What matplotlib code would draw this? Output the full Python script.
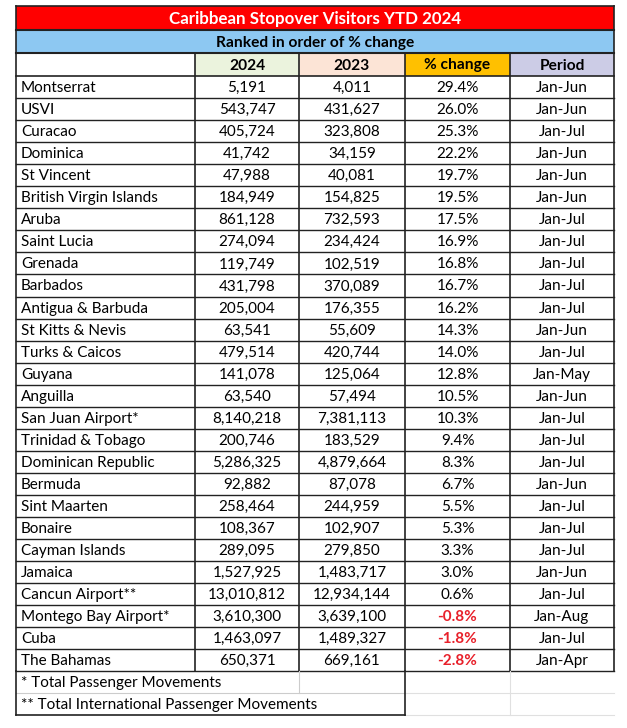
import matplotlib.pyplot as plt
from matplotlib.patches import Rectangle

# Data
countries = ["Montserrat", "USVI", "Curacao", "Dominica", "St Vincent", "British Virgin Islands",
             "Aruba", "Saint Lucia", "Grenada", "Barbados", "Antigua & Barbuda", "St Kitts & Nevis",
             "Turks & Caicos", "Guyana", "Anguilla", "San Juan Airport*", "Trinidad & Tobago",
             "Dominican Republic", "Bermuda", "Sint Maarten", "Bonaire", "Cayman Islands", "Jamaica",
             "Cancun Airport**", "Montego Bay Airport*", "Cuba", "The Bahamas"]
v2024 = [5191, 543747, 405724, 41742, 47988, 184949, 861128, 274094, 119749, 431798, 205004,
         63541, 479514, 141078, 63540, 8140218, 200746, 5286325, 92882, 258464, 108367, 289095,
         1527925, 13010812, 3610300, 1463097, 650371]
v2023 = [4011, 431627, 323808, 34159, 40081, 154825, 732593, 234424, 102519, 370089, 176355,
         55609, 420744, 125064, 57494, 7381113, 183529, 4879664, 87078, 244959, 102907, 279850,
         1483717, 12934144, 3639100, 1489327, 669161]
pct = [29.4, 26.0, 25.3, 22.2, 19.7, 19.5, 17.5, 16.9, 16.8, 16.7, 16.2, 14.3, 14.0, 12.8, 10.5,
       10.3, 9.4, 8.3, 6.7, 5.5, 5.3, 3.3, 3.0, 0.6, -0.8, -1.8, -2.8]
period = ["Jan-Jun", "Jan-Jun", "Jan-Jul", "Jan-Jun", "Jan-Jun", "Jan-Jun", "Jan-Jul", "Jan-Jul",
          "Jan-Jul", "Jan-Jul", "Jan-Jul", "Jan-Jun", "Jan-Jul", "Jan-May", "Jan-Jun", "Jan-Jul",
          "Jan-Jul", "Jan-Jul", "Jan-Jun", "Jan-Jul", "Jan-Jul", "Jan-Jul", "Jan-Jun", "Jan-Jul",
          "Jan-Aug", "Jan-Jul", "Jan-Apr"]
headers = ["", "2024", "2023", "% change", "Period"]
header_colors = ["white", "#EBF3DD", "#FCE4D6", "#FFC000", "#CCCCE6"]
title = "Caribbean Stopover Visitors YTD 2024"
subtitle = "Ranked in order of % change"
footnotes = ["* Total Passenger Movements", "** Total International Passenger Movements"]

plt.rcParams['font.family'] = ['Lato', 'DejaVu Sans']

fig = plt.figure(figsize=(6.27, 7.28), dpi=100)
ax = fig.add_axes([0, 0, 1, 1])
ax.set_xlim(0, 627)
ax.set_ylim(728, 0)
ax.axis('off')

cols = [16, 195, 299, 405, 510, 614]
row_h = 22.05
y_title = 6
y_sub = 30
y_head = 53
y_body = 76

dark = "#222222"
fs = 11

# title + subtitle bars
ax.add_patch(Rectangle((cols[0], y_title), cols[-1] - cols[0], y_sub - y_title, fc="#FF0000", ec="none"))
ax.text((cols[0] + cols[-1]) / 2, (y_title + y_sub) / 2 + 1, title, color="white", fontsize=12.2,
        fontweight="bold", ha="center", va="center")
ax.add_patch(Rectangle((cols[0], y_sub), cols[-1] - cols[0], y_head - y_sub, fc="#8DC8F2", ec="none"))
ax.text((cols[0] + cols[-1]) / 2, (y_sub + y_head) / 2 + 1, subtitle, color="black", fontsize=11.2,
        fontweight="bold", ha="center", va="center")

# header cells
for i in range(5):
    ax.add_patch(Rectangle((cols[i], y_head), cols[i + 1] - cols[i], y_body - y_head,
                           fc=header_colors[i], ec="none"))
    ax.text((cols[i] + cols[i + 1]) / 2, (y_head + y_body) / 2 + 1, headers[i], fontsize=11.2,
            fontweight="bold", ha="center", va="center")

# body rows
n = len(countries)
for r in range(n):
    yc = y_body + (r + 0.5) * row_h + 1
    ax.text(cols[0] + 5, yc, countries[r], fontsize=fs, ha="left", va="center")
    ax.text((cols[1] + cols[2]) / 2, yc, f"{v2024[r]:,}", fontsize=fs, ha="center", va="center")
    ax.text((cols[2] + cols[3]) / 2, yc, f"{v2023[r]:,}", fontsize=fs, ha="center", va="center")
    neg = pct[r] < 0
    ax.text((cols[3] + cols[4]) / 2, yc, f"{pct[r]:.1f}%", fontsize=fs, ha="center", va="center",
            color="#E8202A" if neg else "black", fontweight="bold" if neg else "normal")
    ax.text((cols[4] + cols[5]) / 2, yc, period[r], fontsize=fs, ha="center", va="center")

y_end = y_body + n * row_h
y_foot_end = y_end + 2 * row_h

# footnotes
for k, note in enumerate(footnotes):
    ax.text(cols[0] + 5, y_end + (k + 0.5) * row_h + 1, note, fontsize=fs, ha="left", va="center")

# grid lines
ax.plot([cols[0], cols[-1]], [y_title, y_title], color=dark, lw=1.2)
ax.plot([cols[0], cols[-1]], [y_sub, y_sub], color=dark, lw=1.5)
ax.plot([cols[0], cols[-1]], [y_head, y_head], color=dark, lw=1.5)
ax.plot([cols[0], cols[-1]], [y_body, y_body], color=dark, lw=1.2)
for r in range(1, n + 1):
    y = y_body + r * row_h
    ax.plot([cols[0], cols[-1]], [y, y], color=dark, lw=1.0)
for x in cols:
    ax.plot([x, x], [y_head, y_end], color=dark, lw=1.2)
ax.plot([cols[0], cols[0]], [y_title, y_head], color=dark, lw=1.2)
ax.plot([cols[-1], cols[-1]], [y_title, y_head], color=dark, lw=1.2)

# footnote area
ax.plot([cols[0], cols[3]], [y_end + row_h, y_end + row_h], color="#CCCCCC", lw=0.8)
ax.plot([cols[3], cols[-1]], [y_end + row_h, y_end + row_h], color="#E0E0E0", lw=0.8)
ax.plot([cols[3], cols[-1]], [y_foot_end, y_foot_end], color="#E0E0E0", lw=0.8)
ax.plot([cols[2], cols[2]], [y_end, y_end + row_h], color="#CCCCCC", lw=0.8)
ax.plot([cols[4], cols[4]], [y_end, y_foot_end], color="#E0E0E0", lw=0.8)
ax.plot([cols[0], cols[3]], [y_foot_end, y_foot_end], color=dark, lw=1.2)
ax.plot([cols[0], cols[0]], [y_end, y_foot_end], color=dark, lw=1.2)
ax.plot([cols[3], cols[3]], [y_end, y_foot_end], color=dark, lw=1.2)

fig.savefig("out.png", dpi=100, facecolor="white")
